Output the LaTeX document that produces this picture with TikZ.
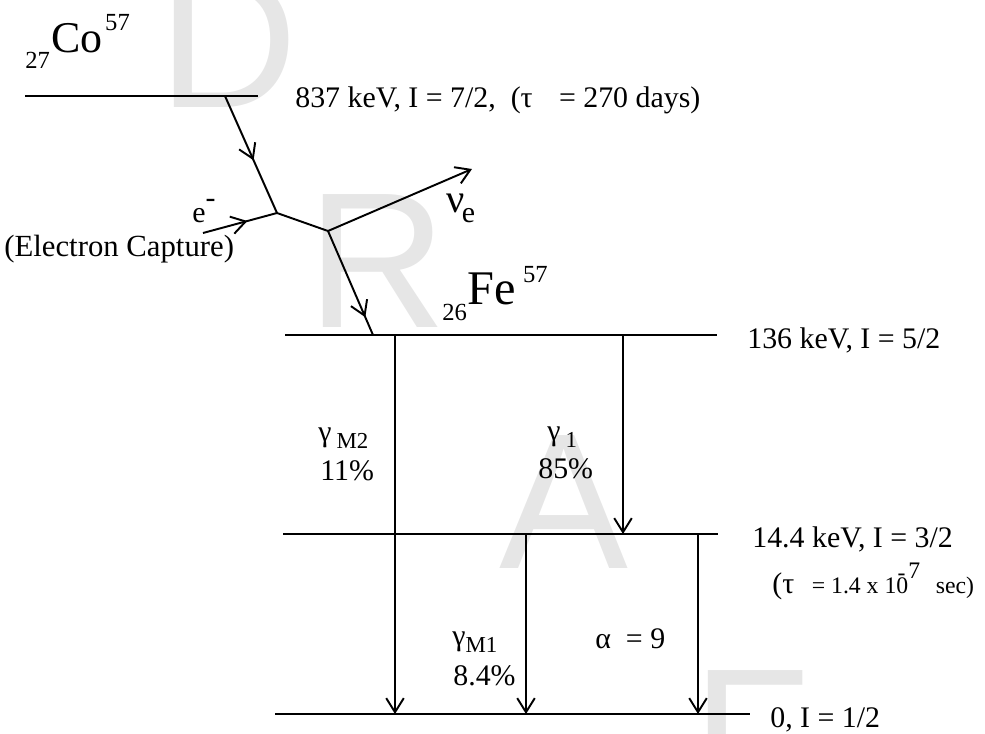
\documentclass[tikz,border=0pt]{standalone}
\usepackage{fontspec}
\setmainfont{Liberation Serif}
\newfontfamily\wmfont{Liberation Sans}
\usetikzlibrary{arrows.meta,decorations.markings}
\definecolor{wmgray}{HTML}{E6E6E6}

\begin{document}
\begin{tikzpicture}[
          x=0.02cm, y=-0.02cm,
          level/.style = {line width=1.1pt},
          arr/.style = {line width=1.1pt, -{Straight Barb[length=8pt,width=10pt]}},
          midarr/.style = {line width=1.1pt, postaction={decorate},
                           decoration={markings,
                             mark=at position #1 with {\arrow{Straight Barb[length=8pt,width=10pt]}}}},
          lbl/.style = {inner sep=0pt, anchor=base west, font=\rmfamily\fontsize{17}{20}\selectfont},
          nucl/.style = {lbl, font=\rmfamily\fontsize{14}{16}\selectfont},
          wm/.style = {inner sep=0pt, anchor=base west, text=wmgray,
                       font=\wmfont\fontsize{110}{110}\selectfont},
        ]
        \useasboundingbox (0,0) rectangle (985,734);
        \clip (0,0) rectangle (985,734);

        % watermark
        \node[wm] (wm-d) at (158,107) {D};
        \node[wm] (wm-r) at (307,327) {R};
        \node[wm] (wm-a) at (499,568) {A};
        \node[wm] (wm-f) at (692,803) {F};

        % levels
        \coordinate (co-l)  at (25,96);
        \coordinate (co-r)  at (258,96);
        \coordinate (fe-l)  at (285,335);
        \coordinate (fe-r)  at (717,335);
        \coordinate (mid-l) at (283,534);
        \coordinate (mid-r) at (718,534);
        \coordinate (gnd-l) at (275,714);
        \coordinate (gnd-r) at (750,714);
        \draw[level] (co-l) -- (co-r);
        \draw[level] (fe-l) -- (fe-r);
        \draw[level] (mid-l) -- (mid-r);
        \draw[level] (gnd-l) -- (gnd-r);

        % electron capture
        \coordinate (ec-top) at (225,96);
        \coordinate (cap)    at (277,213);
        \coordinate (e-in)   at (203,233);
        \coordinate (split)  at (328,231);
        \coordinate (nu-end) at (472,169);
        \coordinate (fe-hit) at (373,335);
        \draw[midarr=0.55] (ec-top) -- (cap);
        \draw[midarr=0.6] (e-in) -- (cap);
        \draw[level] (cap) -- (split);
        \draw[arr] (split) -- (nu-end);
        \draw[midarr=0.83] (split) -- (fe-hit);

        % gamma transitions
        \coordinate (m2-top) at (395,335);
        \coordinate (m2-bot) at (395,714);
        \coordinate (g1-top) at (623,335);
        \coordinate (g1-bot) at (623,534);
        \coordinate (m1-top) at (526,534);
        \coordinate (m1-bot) at (526,714);
        \coordinate (al-top) at (698,534);
        \coordinate (al-bot) at (698,714);
        \draw[arr] (m2-top) -- (m2-bot);
        \draw[arr] (g1-top) -- (g1-bot);
        \draw[arr] (m1-top) -- (m1-bot);
        \draw[arr] (al-top) -- (al-bot);

        % labels
        \node[nucl] (co-name) at (25,68) {27\raisebox{9pt}{\fontsize{25}{29}\selectfont\kern0.8pt Co}\raisebox{21.5pt}{\kern1.5pt 57}};
        \node[nucl] (fe-name) at (442,320) {26\raisebox{9pt}{\fontsize{27.5}{31}\selectfont\kern0.5pt Fe}\raisebox{21.5pt}{\kern4pt 57}};
        \node[lbl] (co-lvl)  at (295,107) {837 keV, I = 7/2,\ \ (τ\hspace{15pt}= 270 days)};
        \node[lbl] (fe-lvl)  at (747,348) {136 keV, I = 5/2};
        \node[lbl] (mid-lvl) at (752,547) {14.4 keV, I = 3/2};
        \node[lbl] (tau-lbl) at (772,593) {(τ\hspace{10pt}{\fontsize{13.5}{16}\selectfont = 1.4 x 10\llap{\raisebox{7pt}{-}\kern1.5pt}\raisebox{8pt}{7}\hspace{9pt}sec)}};
        \node[lbl] (gnd-lvl) at (770,727) {0, I = 1/2};
        \node[lbl, font=\rmfamily\fontsize{17.5}{20}\selectfont] (ec-lbl) at (4,256) {(Electron Capture)};
        \node[lbl] (e-lbl)   at (192,222) {e\raisebox{8pt}{-}};
        \node[lbl] (nu-lbl)  at (446,212) {{\fontsize{23}{26}\selectfont ν}\kern-1.5pt\raisebox{-6pt}{e}};
        \node[lbl] (m2-lbl)  at (318,448) {\raisebox{3.5pt}{γ}\,{\fontsize{13}{15}\selectfont M2}};
        \node[lbl] (m2-pct)  at (320,480) {11\%};
        \node[lbl] (g1-lbl)  at (547,447) {\raisebox{3.5pt}{γ}\,{\fontsize{13}{15}\selectfont 1}};
        \node[lbl] (g1-pct)  at (538,478) {85\%};
        \node[lbl] (m1-lbl)  at (452,652) {\raisebox{3.5pt}{γ}{\fontsize{13}{15}\selectfont M1}};
        \node[lbl] (m1-pct)  at (453,685) {8.4\%};
        \node[lbl] (al-lbl)  at (595,648) {α\ \ = 9};
      \end{tikzpicture}
\end{document}
